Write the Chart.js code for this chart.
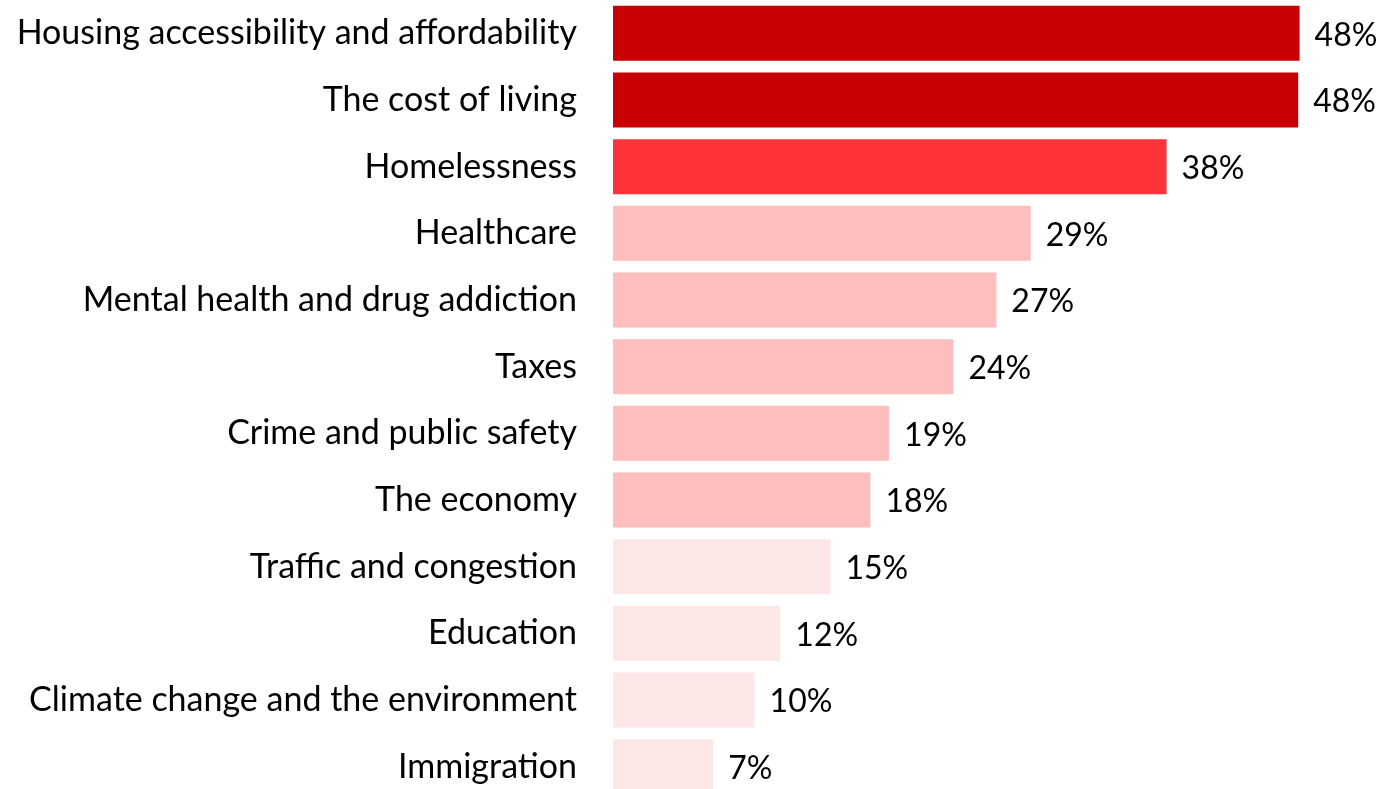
<!DOCTYPE html>
<html>
<head>
<meta charset="utf-8">
<script src="https://cdn.jsdelivr.net/npm/chart.js@4/dist/chart.umd.min.js"></script>
<style>
    html, body { margin: 0; padding: 0; background: #fff; overflow: hidden; }
    #wrap { width: 1384px; height: 800px; position: relative; }
</style>
</head>
<body>
<div id="wrap"><canvas id="issues"></canvas></div>
<script>
// 데이터
var categories = [
    "Housing accessibility and affordability",
    "The cost of living",
    "Homelessness",
    "Healthcare",
    "Mental health and drug addiction",
    "Taxes",
    "Crime and public safety",
    "The economy",
    "Traffic and congestion",
    "Education",
    "Climate change and the environment",
    "Immigration"
];
var shares = [48.0, 47.9, 38.7, 29.2, 26.8, 23.8, 19.3, 18.0, 15.2, 11.7, 9.9, 7.0];
var shareLabels = ["48%", "48%", "38%", "29%", "27%", "24%", "19%", "18%", "15%", "12%", "10%", "7%"];
var tiers = [0, 0, 1, 2, 2, 2, 2, 2, 3, 3, 3, 3];
var tierColors = ["#c80006", "#ff333a", "#febebe", "#fde8e7"];

var FONT = "Lato, 'DejaVu Sans', sans-serif";

// 막대 끝에 값 표시
var valueLabels = {
    id: "valueLabels",
    afterDatasetsDraw: function (chart) {
        var ctx = chart.ctx;
        var meta = chart.getDatasetMeta(0);
        ctx.save();
        ctx.font = "32px " + FONT;
        ctx.fillStyle = "#000";
        ctx.textAlign = "left";
        ctx.textBaseline = "middle";
        meta.data.forEach(function (bar, i) {
            ctx.fillText(shareLabels[i], bar.x + 15, bar.y + 2);
        });
        ctx.restore();
    }
};

var chart = new Chart(document.getElementById("issues"), {
    type: "bar",
    data: {
        labels: categories,
        datasets: [{
            data: shares,
            backgroundColor: tiers.map(function (t) { return tierColors[t]; }),
            borderWidth: 0,
            categoryPercentage: 1,
            barPercentage: 0.826
        }]
    },
    options: {
        indexAxis: "y",
        responsive: true,
        maintainAspectRatio: false,
        animation: false,
        layout: { padding: 0 },
        plugins: {
            legend: { display: false },
            tooltip: { enabled: false }
        },
        scales: {
            x: {
                display: false,
                min: 0,
                max: 53.9
            },
            y: {
                grid: { display: false, drawTicks: false },
                border: { display: false },
                ticks: {
                    color: "#000",
                    padding: 36,
                    font: { family: FONT, size: 34 }
                },
                afterFit: function (scale) {
                    scale.width = 613;
                    scale.paddingTop = 0;
                    scale.paddingBottom = 0;
                }
            }
        }
    },
    plugins: [valueLabels]
});
</script>
</body>
</html>
